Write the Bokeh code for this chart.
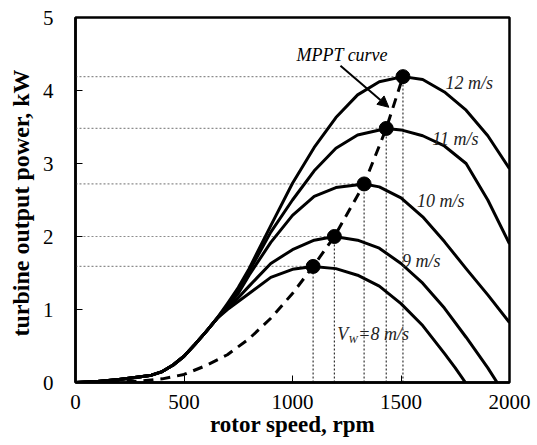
from bokeh.plotting import figure
from bokeh.models import Arrow, NormalHead, FixedTicker
from bokeh.core.properties import value
from bokeh.embed import file_html
from bokeh.resources import INLINE

# ---- data ----
x_ticks = [0, 500, 1000, 1500, 2000]
y_ticks = [0, 1, 2, 3, 4, 5]

common_rpm = [0, 100, 200, 300, 350, 400, 450, 500, 550, 600, 650]
common_kw = [0, 0.015, 0.04, 0.08, 0.10, 0.15, 0.24, 0.36, 0.52, 0.69, 0.87]

v8_rpm = [700, 750, 800, 900, 1000, 1095, 1200, 1300, 1400, 1500, 1600, 1700, 1750, 1797]
v8_kw = [1.00, 1.11, 1.22, 1.44, 1.55, 1.59, 1.56, 1.47, 1.32, 1.08, 0.78, 0.40, 0.20, 0.0]

v9_rpm = [700, 750, 800, 900, 1000, 1100, 1193, 1300, 1400, 1500, 1600, 1700, 1800, 1900, 1943]
v9_kw = [1.02, 1.16, 1.32, 1.63, 1.82, 1.95, 2.00, 1.95, 1.84, 1.63, 1.36, 1.02, 0.62, 0.20, 0.0]

v10_rpm = [700, 750, 800, 900, 1000, 1100, 1200, 1330, 1400, 1500, 1600, 1700, 1800, 1900, 2000]
v10_kw = [1.04, 1.22, 1.47, 1.92, 2.29, 2.55, 2.67, 2.72, 2.68, 2.53, 2.27, 1.93, 1.56, 1.20, 0.82]

v11_rpm = [700, 750, 800, 900, 1000, 1100, 1200, 1300, 1432, 1500, 1600, 1700, 1800, 1900, 2000]
v11_kw = [1.06, 1.26, 1.52, 2.06, 2.50, 2.90, 3.21, 3.39, 3.48, 3.46, 3.38, 3.24, 3.00, 2.50, 1.90]

v12_rpm = [700, 750, 800, 900, 1000, 1100, 1200, 1300, 1400, 1509, 1600, 1700, 1800, 1900, 2000]
v12_kw = [1.08, 1.30, 1.56, 2.15, 2.73, 3.22, 3.63, 3.94, 4.12, 4.19, 4.15, 3.98, 3.73, 3.38, 2.93]

peak_rpm = [1095, 1193, 1330, 1432, 1509]
peak_kw = [1.59, 2.00, 2.72, 3.48, 4.19]

mppt_rpm = [0, 200, 300, 400, 500, 600, 700, 800, 900, 1000, 1095, 1193, 1330, 1432, 1509]
mppt_kw = [0, 0.01, 0.02, 0.05, 0.11, 0.23, 0.38, 0.60, 0.88, 1.22, 1.59, 2.00, 2.72, 3.48, 4.19]

speed_labels = ["12 m/s", "11 m/s", "10 m/s", "9 m/s"]
speed_label_x = [1705, 1644, 1574, 1505]
speed_label_y = [4.10, 3.34, 2.49, 1.67]

SERIF = "Liberation Serif"

p = figure(width=537, height=445, x_range=(0, 2000), y_range=(0, 5),
           output_backend="svg", toolbar_location=None,
           min_border_left=75, min_border_right=28, min_border_top=17, min_border_bottom=63)
p.grid.visible = False
p.background_fill_color = "white"
p.border_fill_color = "white"
p.outline_line_color = "black"
p.outline_line_width = 2.5

for ax in (p.xaxis[0], p.yaxis[0]):
    ax.axis_line_width = 2.5
    ax.axis_line_color = "black"
    ax.major_tick_in = 7
    ax.major_tick_out = 0
    ax.minor_tick_in = 0
    ax.minor_tick_out = 0
    ax.major_tick_line_color = "black"
    ax.major_label_text_font = SERIF
    ax.major_label_text_font_size = "21px"
    ax.major_label_text_color = "black"
    ax.axis_label_text_font = SERIF
    ax.axis_label_text_font_style = "bold"
    ax.axis_label_text_color = "black"
p.xaxis.ticker = FixedTicker(ticks=x_ticks)
p.yaxis.ticker = FixedTicker(ticks=y_ticks)
p.xaxis.major_label_standoff = 12
p.yaxis.major_label_standoff = 22
p.xaxis.axis_label = "rotor speed, rpm"
p.xaxis.axis_label_text_font_size = "23px"
p.xaxis.axis_label_standoff = 0
p.yaxis.axis_label = "turbine output power,  kW"
p.yaxis.axis_label_text_font_size = "24px"
p.yaxis.axis_label_standoff = 6

# dotted reference lines
p.segment(x0=[0] * len(peak_rpm), y0=peak_kw, x1=peak_rpm, y1=peak_kw,
          line_color="#8c8c8c", line_dash="2 2", line_width=1.2)
p.segment(x0=peak_rpm, y0=[0] * len(peak_rpm), x1=peak_rpm, y1=peak_kw,
          line_color="#333333", line_dash="2 2", line_width=1.2)

# power curves
for rpm, kw in [(v8_rpm, v8_kw), (v9_rpm, v9_kw), (v10_rpm, v10_kw),
                (v11_rpm, v11_kw), (v12_rpm, v12_kw)]:
    p.line(common_rpm + rpm, common_kw + kw, line_color="black", line_width=3,
           line_join="round")

# MPPT curve
p.line(mppt_rpm, mppt_kw, line_color="black", line_width=3, line_dash="10 7")
p.scatter(peak_rpm, peak_kw, size=14, color="black")

# arrow + MPPT label
p.add_layout(Arrow(end=NormalHead(size=11, fill_color="black", line_color="black"),
                   x_start=1221, y_start=4.34, x_end=1444, y_end=3.77,
                   line_color="black", line_width=2))
p.text(x=[1229], y=[4.48], text=["MPPT curve"], text_font=value(SERIF),
       text_font_style="italic", text_font_size="18px", text_align="center",
       text_baseline="middle", text_color="black")

p.text(x=speed_label_x, y=speed_label_y, text=speed_labels, text_font=value(SERIF),
       text_font_style="italic", text_font_size="18px", text_align="left",
       text_baseline="middle", text_color="#222222")
p.text(x=[1206], y=[0.67], text=["V"], text_font=value(SERIF), text_font_style="italic",
       text_font_size="18px", text_align="left", text_baseline="middle", text_color="#222222")
p.text(x=[1258], y=[0.60], text=["W"], text_font=value(SERIF), text_font_style="italic",
       text_font_size="11px", text_align="left", text_baseline="middle", text_color="#222222")
p.text(x=[1303], y=[0.67], text=["=8 m/s"], text_font=value(SERIF), text_font_style="italic",
       text_font_size="18px", text_align="left", text_baseline="middle", text_color="#222222")

open("out.html", "w").write(file_html(p, INLINE))
